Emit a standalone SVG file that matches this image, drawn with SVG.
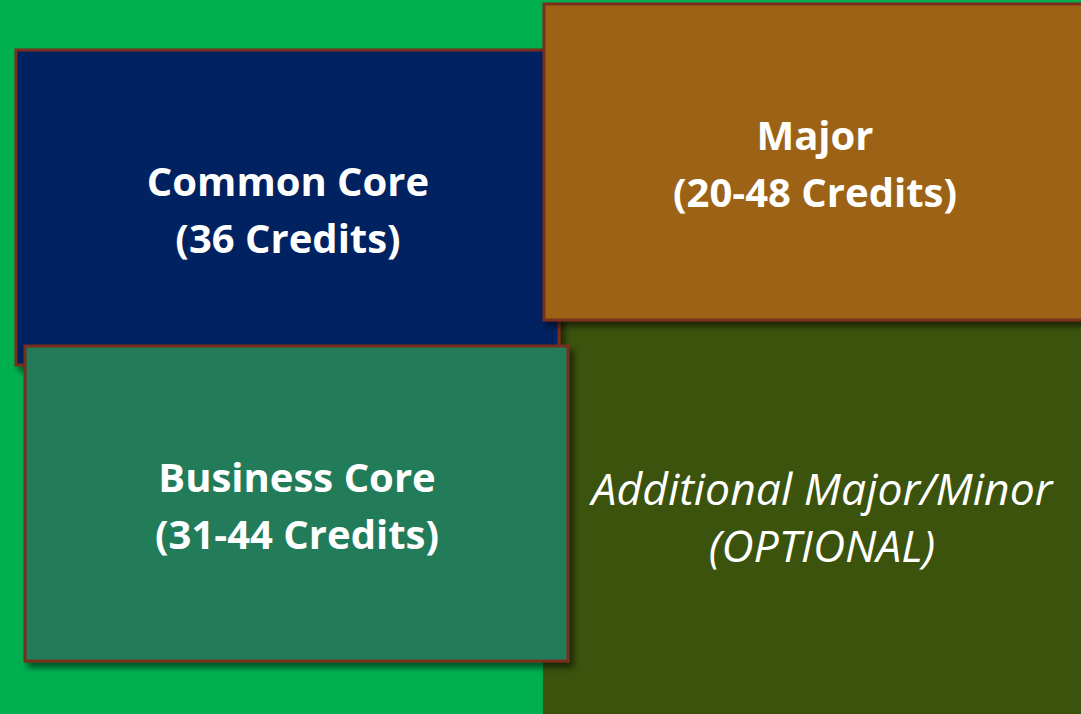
<svg xmlns="http://www.w3.org/2000/svg" width="1081" height="714" viewBox="0 0 1081 714">
<style>
.box{stroke:#7A2E1E;stroke-width:3;filter:url(#sh)}
.t{font-family:"Open Sans","Noto Sans",sans-serif;fill:#FFFFFF;text-anchor:middle}
.b{font-weight:bold;font-size:40px}
.i{font-style:italic;font-weight:normal;font-size:44.5px}
</style>
<defs>
<filter id="sh" x="-10%" y="-10%" width="125%" height="130%">
<feDropShadow dx="4" dy="5" stdDeviation="3" flood-color="#000000" flood-opacity="0.55"/>
</filter>
</defs>
<rect x="0" y="0" width="1081" height="714" fill="#00B050"/>
<g id="optional">
<rect x="543" y="320" width="560" height="420" fill="#3A530D" filter="url(#sh)"/>
<text class="t i" x="822" y="505">Additional Major/Minor</text>
<text class="t i" x="822" y="562">(OPTIONAL)</text>
</g>
<g id="common-core">
<rect class="box" x="16" y="50" width="543" height="315" fill="#002060"/>
<text class="t b" x="288" y="196">Common Core</text>
<text class="t b" x="288" y="253">(36 Credits)</text>
</g>
<g id="major">
<rect class="box" x="544" y="4" width="560" height="316" fill="#9C6317"/>
<text class="t b" x="815" y="150">Major</text>
<text class="t b" x="815" y="207">(20-48 Credits)</text>
</g>
<g id="business-core">
<rect class="box" x="25" y="346" width="543" height="315" fill="#247C5A"/>
<text class="t b" x="297" y="492">Business Core</text>
<text class="t b" x="297" y="549">(31-44 Credits)</text>
</g>
<g id="connectors"></g>
</svg>
